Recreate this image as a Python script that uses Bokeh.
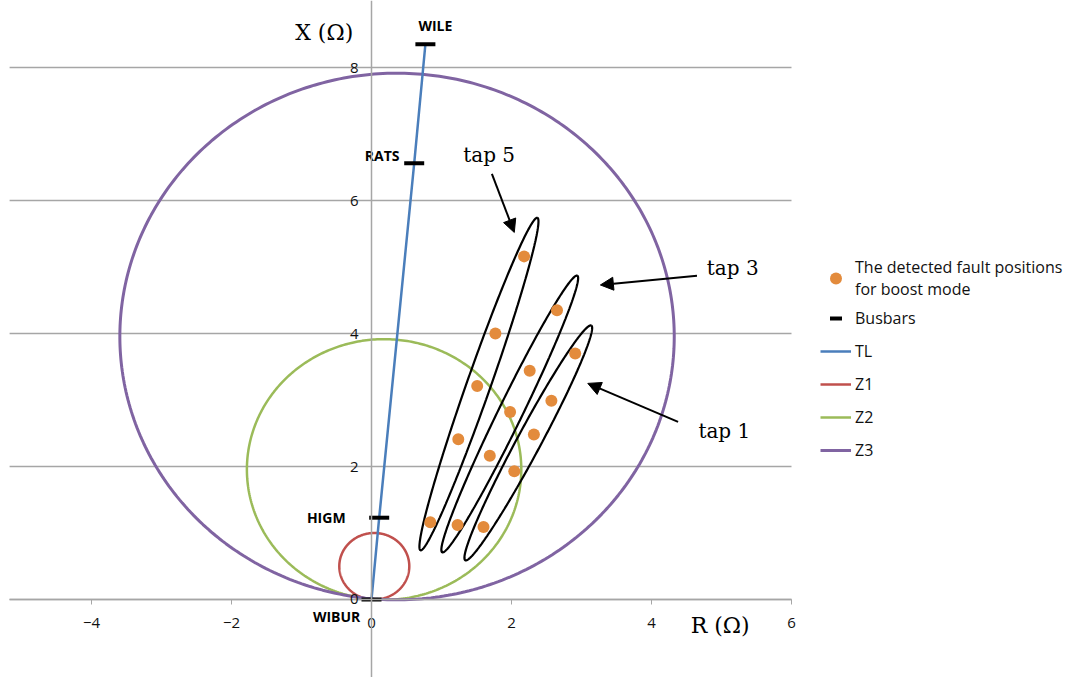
import numpy as np
from bokeh.plotting import figure
from bokeh.models import (LinearAxis, FixedTicker, Legend, LegendItem,
                          Arrow, NormalHead)
from bokeh.core.properties import value
from bokeh.embed import file_html
from bokeh.resources import INLINE

# ---- data -----------------------------------------------------------------
# busbars along the transmission line (R, X in ohm)
bus_names = ["WIBUR", "HIGM", "RATS", "WILE"]
bus_r = [0.0, 0.11, 0.61, 0.77]
bus_x = [0.0, 1.23, 6.56, 8.35]

# mho zones: centre (R, X) and radius
zone_names = ["Z1", "Z2", "Z3"]
zone_cr = [0.04, 0.18, 0.365]
zone_cx = [0.50, 1.955, 3.955]
zone_rad = [0.50, 1.96, 3.96]

# detected fault positions for boost mode, by tap
fault_tap = [5, 5, 5, 5, 5, 3, 3, 3, 3, 3, 1, 1, 1, 1, 1]
fault_r = [2.18, 1.77, 1.51, 1.24, 0.84,
           2.65, 2.26, 1.98, 1.69, 1.23,
           2.91, 2.57, 2.32, 2.04, 1.60]
fault_x = [5.16, 4.00, 3.21, 2.41, 1.16,
           4.35, 3.44, 2.82, 2.16, 1.12,
           3.70, 2.99, 2.48, 1.93, 1.09]

# tap groups: end points of each enclosing outline
tap_names = ["tap 5", "tap 3", "tap 1"]
tap_r0 = [0.70, 1.01, 1.34]
tap_x0 = [0.74, 0.71, 0.59]
tap_r1 = [2.37, 2.94, 3.14]
tap_x1 = [5.74, 4.87, 4.12]

x_ticks = [-4, -2, 0, 2, 4, 6]
y_ticks = [0, 2, 4, 6, 8]

# ---- figure ---------------------------------------------------------------
W, H = 1088, 677
XR = (-5.3, 10.243)
YR = (-1.173, 9.008)
X_LEFT, X_RIGHT = -5.17, 6.0   # horizontal extent of the R axis and grid

p = figure(width=W, height=H, x_range=XR, y_range=YR,
           x_axis_location=None, y_axis_location=None,
           output_backend="svg", toolbar_location=None, min_border=0)
p.outline_line_color = None
p.background_fill_color = "white"
p.border_fill_color = "white"
for g in list(p.center):
    g.visible = False

axis_col = "#a6a6a6"
tick_font = "Open Sans"

# horizontal grid lines, stopping at the right end of the R axis
p.segment(x0=[X_LEFT] * len(y_ticks), x1=[X_RIGHT] * len(y_ticks),
          y0=y_ticks, y1=y_ticks, line_color=axis_col, line_width=1.5)

xaxis = LinearAxis(fixed_location=0, ticker=FixedTicker(ticks=x_ticks),
                   bounds=(X_LEFT, X_RIGHT))
xaxis.axis_line_color = axis_col
xaxis.axis_line_width = 1.5
xaxis.major_tick_line_color = axis_col
xaxis.major_tick_out = 5
xaxis.major_tick_in = 0
xaxis.minor_tick_line_color = None
xaxis.major_label_standoff = 14
xaxis.major_label_text_font = tick_font
xaxis.major_label_text_font_size = "15px"
xaxis.major_label_text_color = "#111111"
p.add_layout(xaxis, "below")

yaxis = LinearAxis(fixed_location=0, ticker=FixedTicker(ticks=y_ticks))
yaxis.axis_line_color = axis_col
yaxis.axis_line_width = 1.5
yaxis.major_tick_line_color = axis_col
yaxis.major_tick_out = 8
yaxis.major_tick_in = 0
yaxis.minor_tick_line_color = None
yaxis.major_label_standoff = 5
yaxis.major_label_text_font = tick_font
yaxis.major_label_text_font_size = "15px"
yaxis.major_label_text_color = "#111111"
p.add_layout(yaxis, "left")

# screen aspect (pixels per unit in y over pixels per unit in x)
sx = W / (XR[1] - XR[0])
sy = H / (YR[1] - YR[0])
k = sy / sx

# ---- zones ----------------------------------------------------------------
zone_cols = ["#c0504d", "#9bbb59", "#8064a2"]
zone_w = [2.5, 2.5, 3]
t = np.linspace(0, 2 * np.pi, 400)
zone_r = {}
for name, cr, cx, rad, col, lw in zip(zone_names, zone_cr, zone_cx, zone_rad,
                                      zone_cols, zone_w):
    zone_r[name] = p.line(cr + rad * np.cos(t), cx + rad * np.sin(t),
                          line_color=col, line_width=lw)

# ---- transmission line and busbars ---------------------------------------
tl = p.line(bus_r, bus_x, line_color="#4a7ebb", line_width=2.5)
bus = p.scatter(bus_r, bus_x, marker="dash", size=20, line_color="black",
                line_width=4)

bus_lab = dict(text_font=value("Open Sans"), text_font_style="bold",
               text_font_size="14px", text_color="black",
               text_baseline="middle")
p.text([bus_r[3] - 0.10], [bus_x[3] + 0.28], text=[bus_names[3]],
       text_align="left", **bus_lab)
p.text([bus_r[2] - 0.21], [bus_x[2] + 0.12], text=[bus_names[2]],
       text_align="right", **bus_lab)
p.text([bus_r[1] - 0.48], [bus_x[1]], text=[bus_names[1]],
       text_align="right", **bus_lab)
p.text([bus_r[0] - 0.16], [bus_x[0] - 0.26], text=[bus_names[0]],
       text_align="right", **bus_lab)

# ---- tap outlines ---------------------------------------------------------
half_w = 0.17
s = np.linspace(0, 2 * np.pi, 300)
for r0, x0, r1, x1 in zip(tap_r0, tap_x0, tap_r1, tap_x1):
    a0 = np.array([r0, x0 * k])
    a1 = np.array([r1, x1 * k])
    c = (a0 + a1) / 2
    d = a1 - a0
    a = np.linalg.norm(d) / 2
    d = d / np.linalg.norm(d)
    n = np.array([-d[1], d[0]])
    u = c[0] + a * np.cos(s) * d[0] + half_w * np.sin(s) * n[0]
    v = c[1] + a * np.cos(s) * d[1] + half_w * np.sin(s) * n[1]
    p.line(u, v / k, line_color="black", line_width=2.2)

faults = p.scatter(fault_r, fault_x, size=12, fill_color="#e38b3c",
                   line_color=None)

# ---- tap callouts ---------------------------------------------------------
serif = value("DejaVu Serif")
head = dict(size=13, fill_color="black", line_color="black")
p.add_layout(Arrow(x_start=1.72, y_start=6.40, x_end=2.04, y_end=5.52,
                   line_width=2, line_color="black", end=NormalHead(**head)))
p.add_layout(Arrow(x_start=4.65, y_start=4.87, x_end=3.27, y_end=4.73,
                   line_width=2, line_color="black", end=NormalHead(**head)))
p.add_layout(Arrow(x_start=4.38, y_start=2.67, x_end=3.09, y_end=3.25,
                   line_width=2, line_color="black", end=NormalHead(**head)))
p.text([1.31, 4.79, 4.67], [6.68, 4.98, 2.54], text=tap_names,
       text_font=serif, text_font_size="20px", text_color="black",
       text_baseline="middle", text_align="left")

# ---- axis titles ----------------------------------------------------------
p.text([-1.09], [8.53], text=["X (Ω)"], text_font=serif,
       text_font_size="22px", text_color="black", text_baseline="middle")
p.text([4.56], [-0.39], text=["R (Ω)"], text_font=serif,
       text_font_size="22px", text_color="black", text_baseline="middle")

# ---- legend ---------------------------------------------------------------
legend = Legend(items=[
    LegendItem(label="The detected fault positions\nfor boost mode",
               renderers=[faults]),
    LegendItem(label="Busbars", renderers=[bus]),
    LegendItem(label="TL", renderers=[tl]),
    LegendItem(label="Z1", renderers=[zone_r["Z1"]]),
    LegendItem(label="Z2", renderers=[zone_r["Z2"]]),
    LegendItem(label="Z3", renderers=[zone_r["Z3"]]),
], location=(820, 212), orientation="vertical")
legend.border_line_color = None
legend.background_fill_alpha = 0
legend.margin = 0
legend.padding = 0
legend.spacing = 3
legend.glyph_width = 31
legend.glyph_height = 30
legend.label_height = 30
legend.label_standoff = 4
legend.label_text_font = "Open Sans"
legend.label_text_font_size = "16px"
legend.label_text_color = "#111111"
p.add_layout(legend, "center")

open("out.html", "w").write(file_html(p, INLINE))
